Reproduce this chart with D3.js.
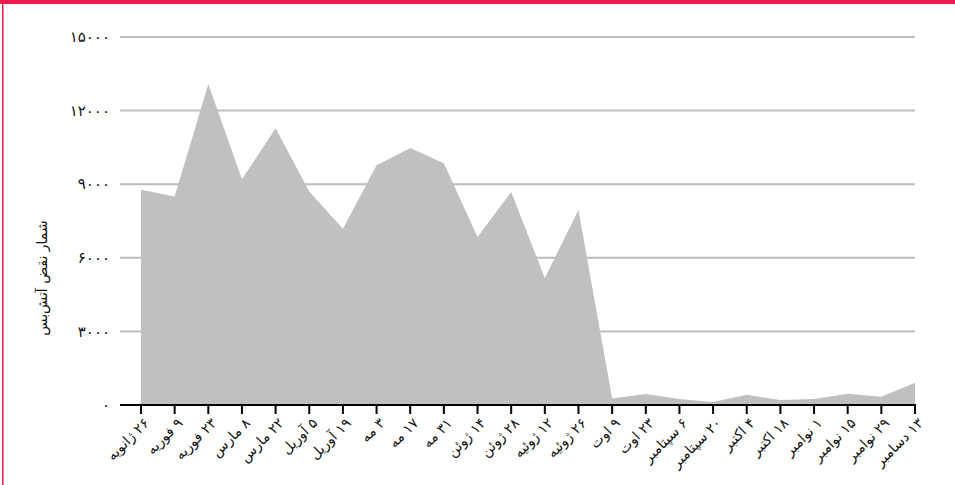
<!DOCTYPE html>
<html>
<head>
<meta charset="utf-8">
<script src="https://cdn.jsdelivr.net/npm/d3@7"></script>
<style>
  body { margin: 0; background: #fff; }
  svg { display: block; font-family: "DejaVu Sans", sans-serif; }
</style>
</head>
<body>
<svg id="chart" width="955" height="485"></svg>
<script>
'use strict';

/* -- Data ------------------------------------------------------------------ */
const dates = [
    '۲۶ ژانویه', '۹ فوریه', '۲۳ فوریه', '۸ مارس', '۲۲ مارس', '۵ آوریل',
    '۱۹ آوریل', '۳ مه', '۱۷ مه', '۳۱ مه', '۱۴ ژوئن', '۲۸ ژوئن',
    '۱۲ ژوئیه', '۲۶ ژوئیه', '۹ اوت', '۲۳ اوت', '۶ سپتامبر', '۲۰ سپتامبر',
    '۴ اکتبر', '۱۸ اکتبر', '۱ نوامبر', '۱۵ نوامبر', '۲۹ نوامبر', '۱۳ دسامبر'
];
const violations = [
    8770, 8500, 13080, 9200, 11280, 8700,
    7180, 9770, 10480, 9850, 6850, 8680,
    5180, 7950, 260, 450, 240, 120,
    420, 200, 240, 460, 340, 910
];
const yTicks = [0, 3000, 6000, 9000, 12000, 15000];
const yLabel = 'شمار نقض آتش‌بس';

/* -- Persian digits -------------------------------------------------------- */
const faDigits = function(n) {
    return String(n).replace(/[0-9]/g, function(d) {
        return String.fromCharCode(0x06F0 + (+d));
    });
};

const svg = d3.select('#chart');
const margin = { top: 37, bottom: 80, left: 141, right: 40 };
const W = 955, H = 485;

/* -- Frame ----------------------------------------------------------------- */
svg.append('rect').attr('x', 0).attr('y', 0).attr('width', W).attr('height', 4)
    .attr('fill', '#ee1b4c');
svg.append('rect').attr('x', 2).attr('y', 0).attr('width', 1.5).attr('height', H)
    .attr('fill', '#ee1b4c');

/* -- Scales ---------------------------------------------------------------- */
const xScale = d3.scalePoint()
    .domain(dates)
    .range([margin.left, W - margin.right]);

const yScale = d3.scaleLinear()
    .domain([0, 15000])
    .range([H - margin.bottom, margin.top]);

const gridLeft = 120;

/* -- Grid lines + y labels ------------------------------------------------- */
const yAxis = svg.append('g').attr('class', 'y axis');
yAxis.selectAll('line.grid')
    .data(yTicks.filter(function(d) { return d > 0; }))
    .enter()
    .append('line')
    .attr('class', 'grid')
    .attr('x1', gridLeft)
    .attr('x2', W - margin.right)
    .attr('y1', function(d) { return yScale(d); })
    .attr('y2', function(d) { return yScale(d); })
    .attr('stroke', '#bdbdbf')
    .attr('stroke-width', 2);

yAxis.selectAll('text')
    .data(yTicks)
    .enter()
    .append('text')
    .attr('x', 110)
    .attr('y', function(d) { return yScale(d); })
    .attr('dy', '0.35em')
    .attr('text-anchor', 'end')
    .attr('font-size', 15)
    .attr('letter-spacing', 3)
    .attr('fill', '#111')
    .text(function(d) { return faDigits(d); });

/* -- Area ------------------------------------------------------------------ */
const area = d3.area()
    .x(function(d, i) { return xScale(dates[i]); })
    .y0(yScale(0))
    .y1(function(d) { return yScale(d); });

svg.append('path')
    .datum(violations)
    .attr('d', area)
    .attr('fill', '#bfc0c2');

/* -- X axis ---------------------------------------------------------------- */
const xAxis = svg.append('g')
    .attr('class', 'x axis')
    .attr('transform', 'translate(0,' + yScale(0) + ')');

xAxis.append('line')
    .attr('x1', gridLeft)
    .attr('x2', W - margin.right + 1)
    .attr('stroke', '#000')
    .attr('stroke-width', 2);

xAxis.selectAll('line.tick')
    .data(dates)
    .enter()
    .append('line')
    .attr('class', 'tick')
    .attr('x1', function(d) { return xScale(d); })
    .attr('x2', function(d) { return xScale(d); })
    .attr('y1', 0)
    .attr('y2', 9)
    .attr('stroke', '#000')
    .attr('stroke-width', 2);

xAxis.selectAll('text')
    .data(dates)
    .enter()
    .append('text')
    .attr('transform', function(d) {
        return 'translate(' + (xScale(d) + 9) + ',19) rotate(-45)';
    })
    .attr('direction', 'rtl')
    .attr('text-anchor', 'start')
    .attr('font-size', 14)
    .attr('fill', '#111')
    .text(function(d) { return d; });

/* -- Y axis label ---------------------------------------------------------- */
svg.append('text')
    .attr('transform', 'translate(47,278) rotate(-90)')
    .attr('direction', 'rtl')
    .attr('text-anchor', 'middle')
    .attr('font-size', 14)
    .attr('fill', '#111')
    .text(yLabel);
</script>
</body>
</html>
